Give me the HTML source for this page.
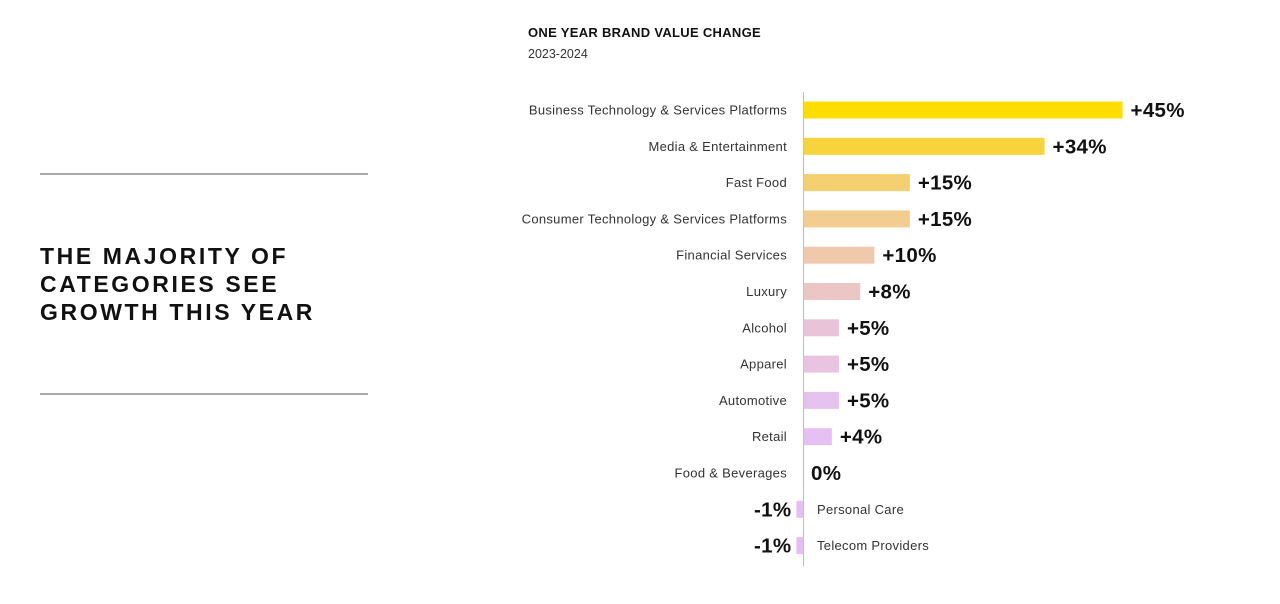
<!DOCTYPE html>
<html><head><meta charset="utf-8">
<style>
html,body{margin:0;padding:0;background:#fff;width:1280px;height:604px;overflow:hidden;font-family:"Liberation Sans",sans-serif}
</style></head>
<body>
<svg id="chart" width="1280" height="604" xmlns="http://www.w3.org/2000/svg">
<line x1="40" y1="174" x2="368" y2="174" stroke="#777" stroke-width="1.2"/>
<line x1="40" y1="394" x2="368" y2="394" stroke="#777" stroke-width="1.2"/>
<g font-family="Liberation Sans, sans-serif" font-weight="bold" font-size="23" letter-spacing="2.6" fill="#111">
<text x="40" y="264">THE MAJORITY OF</text>
<text x="40" y="292">CATEGORIES SEE</text>
<text x="40" y="320">GROWTH THIS YEAR</text>
</g>
<text x="528" y="37" font-size="13" font-weight="bold" fill="#111" letter-spacing="0.3">ONE YEAR BRAND VALUE CHANGE</text>
<text x="528" y="58" font-size="12.5" fill="#333">2023-2024</text>
<line x1="803.5" y1="92" x2="803.5" y2="566" stroke="#bbb" stroke-width="1"/>
<g id="bars"></g>
</svg>
<script>
const categories=["Business Technology & Services Platforms","Media & Entertainment","Fast Food","Consumer Technology & Services Platforms","Financial Services","Luxury","Alcohol","Apparel","Automotive","Retail","Food & Beverages","Personal Care","Telecom Providers"];
const values=[45,34,15,15,10,8,5,5,5,4,0,-1,-1];
const labels=["+45%","+34%","+15%","+15%","+10%","+8%","+5%","+5%","+5%","+4%","0%","-1%","-1%"];
const colors=["#FFDD00","#F8D43C","#F5D070","#F3CD8F","#F0C9AD","#ECC6C4","#E9C4D8","#E9C4E2","#E6C2EE","#E6C0F5","#E6C0F5","#E4BEF5","#E4BEF5"];
const ns="http://www.w3.org/2000/svg";
const g=document.getElementById('bars');
const x0=803.5, pxPer=7.09;
function xs(v){return x0+v*pxPer;}
function yc(i){return 110+i*36.3;}
function mk(t,a){const e=document.createElementNS(ns,t);for(const k in a)e.setAttribute(k,a[k]);g.appendChild(e);return e;}
categories.forEach((c,i)=>{
  const v=values[i],y=yc(i);
  const xa=Math.min(xs(0),xs(v)),w=Math.abs(xs(v)-xs(0));
  const r=mk('rect',{x:xa,y:y-8.5,width:w,height:17,fill:colors[i]});
  
  
  const neg=v<0;
  const cl=mk('text',{x:neg?817:787,y:y+4.5,'font-size':13,fill:'#333','text-anchor':neg?'start':'end','letter-spacing':0.3});
  cl.textContent=c;
  
  
  const vl=mk('text',{x:neg?xs(v)-5:(v===0?811:xs(v)+8),y:y+7,'font-size':20.5,'font-weight':'bold',fill:'#111','letter-spacing':0.3,'text-anchor':neg?'end':'start'});
  vl.textContent=labels[i];
  
  
});
</script>
</body></html>
